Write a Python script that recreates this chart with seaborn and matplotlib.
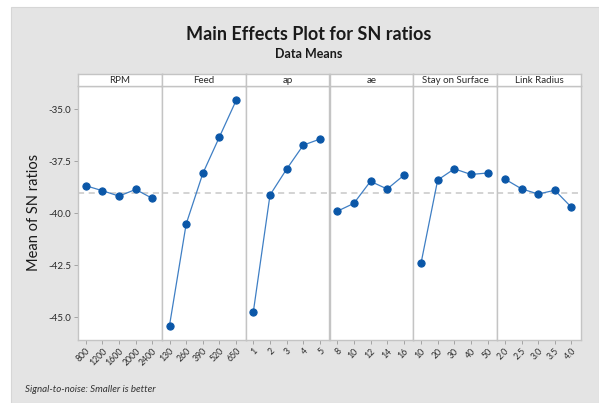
"""
Main effects plot for SN ratios (Minitab style) redrawn with seaborn.
"""
import numpy as np
import pandas as pd
import matplotlib
matplotlib.use("Agg")
import matplotlib.pyplot as plt
import seaborn as sns
from matplotlib.patches import Rectangle

sns.set_style("white")
plt.rcParams['font.family'] = ['Lato', 'DejaVu Sans']

# ── Data ──
factors = ['RPM', 'Feed', 'ap', 'ae', 'Stay on Surface', 'Link Radius']
levels = {
    'RPM': ['800', '1200', '1600', '2000', '2400'],
    'Feed': ['130', '260', '390', '520', '650'],
    'ap': ['1', '2', '3', '4', '5'],
    'ae': ['8', '10', '12', '14', '16'],
    'Stay on Surface': ['10', '20', '30', '40', '50'],
    'Link Radius': ['2.0', '2.5', '3.0', '3.5', '4.0'],
}
rpm_sn = [-38.67, -38.91, -39.17, -38.85, -39.28]
feed_sn = [-45.39, -40.51, -38.08, -36.32, -34.57]
ap_sn = [-44.73, -39.12, -37.87, -36.72, -36.43]
ae_sn = [-39.90, -39.52, -38.46, -38.83, -38.17]
stay_sn = [-42.40, -38.40, -37.86, -38.13, -38.06]
link_sn = [-38.35, -38.82, -39.07, -38.89, -39.71]
grand_mean = -39.01

sn_values = dict(zip(factors, [rpm_sn, feed_sn, ap_sn, ae_sn, stay_sn, link_sn]))

rows = []
for f in factors:
    for i, (lab, v) in enumerate(zip(levels[f], sn_values[f])):
        rows.append({'factor': f, 'pos': i, 'level': lab, 'sn': v})
df = pd.DataFrame(rows)

# ── Figure ──
W, H = 599, 403
fig = plt.figure(figsize=(W / 100, H / 100), dpi=100)
fig.patch.set_facecolor('white')
fig.patches.append(Rectangle((11 / W, 0), 1 - 11 / W, 1 - 7 / H,
                             transform=fig.transFigure, facecolor='#e4e4e4',
                             edgecolor='#d6d6d6', linewidth=0.8, zorder=-10))

left, right = 78 / W, 581 / W
bottom, top_plot, top_head = 1 - 339.5 / H, 1 - 86 / H, 1 - 73.5 / H
pw = (right - left) / len(factors)
edge = '#c4c4c4'

axes = []
for k, f in enumerate(factors):
    x0 = left + k * pw
    ax = fig.add_axes([x0, bottom, pw, top_plot - bottom])
    hx = fig.add_axes([x0, top_plot, pw, top_head - top_plot])
    hx.set_xticks([]); hx.set_yticks([])
    hx.set_facecolor('white')
    for sp in hx.spines.values():
        sp.set_color(edge); sp.set_linewidth(1.0)
    hx.text(0.5, 0.45, f, ha='center', va='center', fontsize=7,
            color='#2a2a2a', transform=hx.transAxes)

    sub = df[df['factor'] == f]
    ax.axhline(grand_mean, color='#c8c8c8', linestyle=(0, (4, 3)),
               linewidth=1.1, zorder=1)
    sns.lineplot(data=sub, x='pos', y='sn', ax=ax, color='#3f7fc4',
                 linewidth=0.9, marker='o', markersize=5.2,
                 markerfacecolor='#0b57a8', markeredgecolor='#0b57a8',
                 zorder=3)
    ax.set_xlim(-0.46, 4.57)
    ax.set_ylim(-46.06, -33.88)
    ax.set_xticks(range(5))
    ax.set_xticklabels(levels[f], rotation=45, ha='right',
                       rotation_mode='anchor', fontsize=6.3, color='#2a2a2a')
    ax.set_xlabel('')
    ax.set_ylabel('')
    ax.tick_params(axis='x', length=3, width=0.6, color='#999999', pad=2,
                   bottom=True)
    for sp in ax.spines.values():
        sp.set_color(edge); sp.set_linewidth(1.0)
    if k == 0:
        ax.set_yticks([-35.0, -37.5, -40.0, -42.5, -45.0])
        ax.set_yticklabels(['-35.0', '-37.5', '-40.0', '-42.5', '-45.0'],
                           fontsize=7, color='#2a2a2a')
        ax.tick_params(axis='y', length=3, width=0.6, color='#999999',
                       pad=2, left=True)
    else:
        ax.set_yticks([])
    axes.append(ax)

axes[0].set_ylabel('Mean of SN ratios', fontsize=10.5, color='#1a1a1a',
                   labelpad=5)

fig.text(309 / W, 1 - 34 / H, 'Main Effects Plot for SN ratios',
         ha='center', va='center', fontsize=13, fontweight='bold',
         color='#1a1a1a')
fig.text(309 / W, 1 - 54 / H, 'Data Means', ha='center', va='center',
         fontsize=9, fontweight='bold', color='#1a1a1a')
fig.text(25 / W, 1 - 390 / H, 'Signal-to-noise: Smaller is better',
         ha='left', va='center', fontsize=7, style='italic', color='#333333')

fig.savefig('out.png', dpi=100, facecolor='white')
plt.close(fig)
